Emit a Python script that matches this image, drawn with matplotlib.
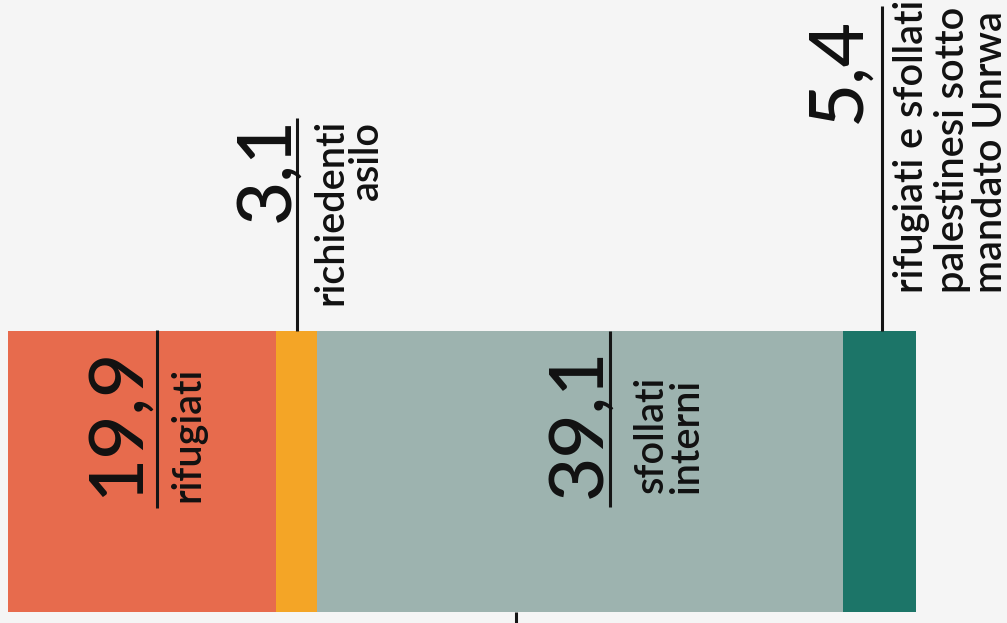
import matplotlib
matplotlib.use("Agg")
import matplotlib.pyplot as plt

# ---- data ----
values = [19.9, 3.1, 39.1, 5.4]
numbers = ["19,9", "3,1", "39,1", "5,4"]
labels = ["rifugiati", "richiedenti\nasilo", "sfollati\ninterni",
          "rifugiati e sfollati\npalestinesi sotto\nmandato Unrwa"]
colors = ["#E76B4D", "#F4A526", "#9DB3AF", "#1C7568"]

W, H = 1007, 623
fig = plt.figure(figsize=(W / 100, H / 100), dpi=100)
fig.patch.set_facecolor("#F5F5F5")
ax = fig.add_axes([0, 0, 1, 1])
ax.set_facecolor("#F5F5F5")

total = sum(values)
x0_px, x1_px = 8, 916
scale = (x1_px - x0_px) / total  # px per unit
ax.set_xlim(-x0_px / scale, (W - x0_px) / scale)
ax.set_ylim(H, 0)  # y in pixels, top = 0
ax.axis("off")

bar_top, bar_bot = 331, 612
left = 0
mids = []
for v, c in zip(values, colors):
    ax.barh((bar_top + bar_bot) / 2, v, left=left, height=bar_bot - bar_top,
            color=c, edgecolor="none")
    mids.append(left + v / 2)
    left += v

FONT = "Lato"
px = 1 / scale
LC = "#151515"
TC = "#111111"

# per segment layout (offsets in px relative to segment middle)
# line_dx, line_y0, line_y1, num_baseline_dx, num_y,
# per-line baseline dx, per-line (y, ha)
layout = [
    (15, 330, 508, -4, 497, [58], [(502, "left")]),
    (0, 118, 331, -8, 222, [45.5, 81.5], [(305, "left"), (121, "right")]),
    (30, 331, 507, 20, 498, [82, 118], [(493, "left"), (493, "left")]),
    (2, 6, 331, -20, 123, [43, 84, 122], [(293, "left")] * 3),
]

for m, num, lab, (ldx, ly0, ly1, ndx, ny, bdx, pos) in zip(
        mids, numbers, labels, layout):
    lx = m + ldx * px
    ax.plot([lx, lx], [ly0, ly1], color=LC, lw=2.2, solid_capstyle="butt")
    ax.text(m + ndx * px, ny, num, rotation=90, rotation_mode="anchor",
            ha="left", va="baseline", fontsize=55, family=FONT,
            fontweight="medium", color=TC)
    for line, dx, (ty, ha) in zip(lab.split("\n"), bdx, pos):
        ax.text(m + dx * px, ty, line, rotation=90, rotation_mode="anchor",
                ha=ha, va="baseline", fontsize=28.5, family=FONT,
                fontweight="semibold", color=TC)

# small tick under the bar
tick_x = 37.8
ax.plot([tick_x, tick_x], [bar_bot, H], color=LC, lw=2.2, solid_capstyle="butt")

fig.savefig("out.png", dpi=100, facecolor=fig.get_facecolor())
